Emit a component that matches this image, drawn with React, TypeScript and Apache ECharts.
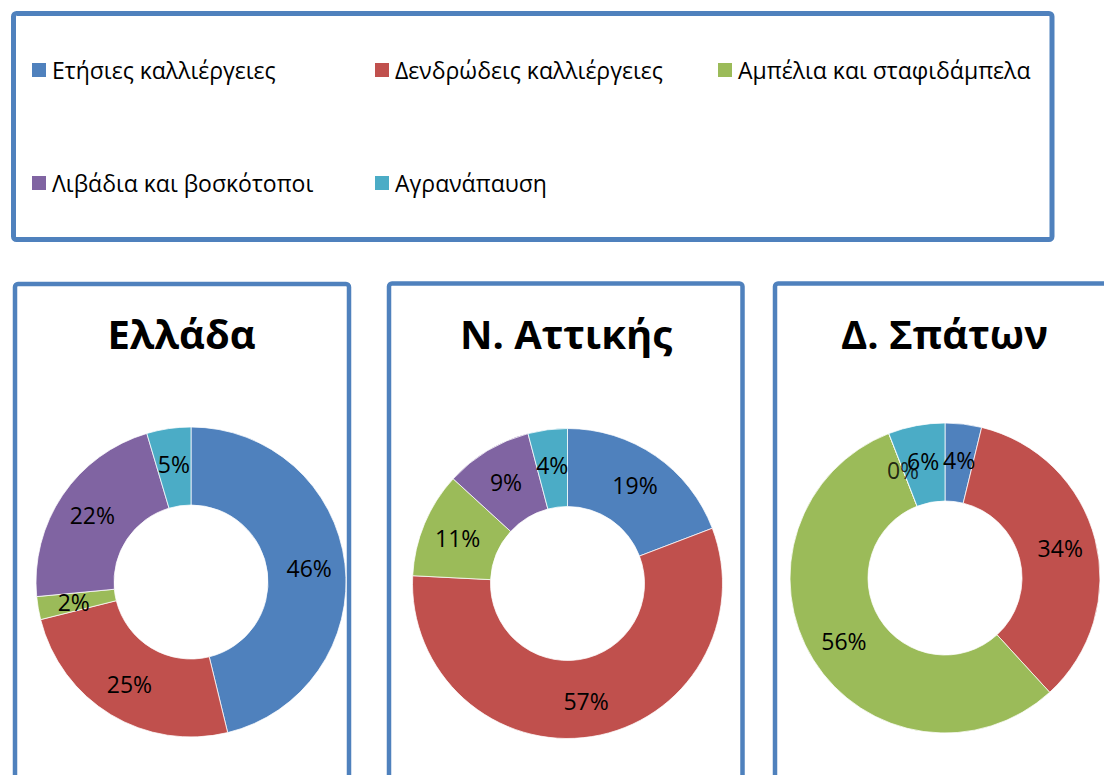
import React, { useEffect, useRef } from "react";
import * as echarts from "echarts";

const categories = [
  "Ετήσιες καλλιέργειες",
  "Δενδρώδεις καλλιέργειες",
  "Αμπέλια και σταφιδάμπελα",
  "Λιβάδια και βοσκότοποι",
  "Αγρανάπαυση",
];
const colors = ["#4F81BD", "#C0504D", "#9BBB59", "#8064A2", "#4BACC6"];
const regions = ["Ελλάδα", "Ν. Αττικής", "Δ. Σπάτων"];
const greeceValues = [46.2, 24.9, 2.4, 21.9, 4.6];
const atticaValues = [19.2, 56.6, 11.0, 9.1, 4.1];
const spataValues = [3.8, 34.4, 55.9, 0, 5.9];

const FONT = '"Open Sans", "Noto Sans", sans-serif';
const BORDER = "#4F81BD";

export default function App() {
  const ref = useRef<HTMLDivElement>(null);
  useEffect(() => {
    if (!ref.current) return;
    const chart = echarts.init(ref.current, undefined, { renderer: "svg" });
    const allValues = [greeceValues, atticaValues, spataValues];
    const centers = [
      [191, 582],
      [567.5, 583.5],
      [945, 578],
    ];
    const R0 = 77;
    const R1 = 155;
    const panels = [
      { x: 15, y: 284, w: 334 },
      { x: 389, y: 283.5, w: 353.5 },
      { x: 775, y: 283.5, w: 400 },
    ];
    const titleX = [181.5, 566, 944.5];
    const legendPos = [
      [30, 70],
      [373, 70],
      [716, 70],
      [30, 183],
      [373, 183],
    ];
    const labelStyle = { fontSize: 23, color: "#000", fontFamily: FONT };

    const legends = categories.map((name, i) => ({
      data: [name],
      left: legendPos[i][0],
      top: legendPos[i][1] - 12,
      orient: "horizontal",
      icon: "rect",
      itemWidth: 16,
      itemHeight: 16,
      itemGap: 0,
      padding: 0,
      selectedMode: false,
      textStyle: { ...labelStyle, lineHeight: 24 },
    }));

    const series: any[] = allValues.map((vals, si) => ({
      type: "pie",
      name: regions[si],
      center: centers[si],
      radius: [R0, R1],
      startAngle: 90,
      clockwise: true,
      avoidLabelOverlap: false,
      minShowLabelAngle: -1,
      emphasis: { disabled: true },
      itemStyle: { borderColor: "#fff", borderWidth: 0.75 },
      label: {
        show: true,
        position: "inside",
        formatter: (p: any) => Math.round(p.value) + "%",
        ...labelStyle,
      },
      labelLine: { show: false },
      data: categories.map((c, i) => ({
        name: c,
        value: vals[i],
        itemStyle: { color: colors[i] },
      })),
    }));

    // zero-value slices: ECharts hides their labels, so place them via a polar scatter
    const polar: any[] = [];
    const angleAxis: any[] = [];
    const radiusAxis: any[] = [];
    allValues.forEach((vals, si) => {
      const total = vals.reduce((a, b) => a + b, 0);
      const zeroPts: any[] = [];
      let cum = 0;
      vals.forEach((v) => {
        if (v === 0) zeroPts.push([(R0 + R1) / 2, cum]);
        cum += v;
      });
      if (!zeroPts.length) return;
      const pi = polar.length;
      polar.push({ center: centers[si], radius: [0, R1] });
      angleAxis.push({
        polarIndex: pi,
        type: "value",
        min: 0,
        max: total,
        startAngle: 90,
        clockwise: true,
        show: false,
        axisLine: { show: false },
        axisTick: { show: false },
        axisLabel: { show: false },
        splitLine: { show: false },
      });
      radiusAxis.push({
        polarIndex: pi,
        type: "value",
        min: 0,
        max: R1,
        show: false,
        axisLine: { show: false },
        axisTick: { show: false },
        axisLabel: { show: false },
        splitLine: { show: false },
      });
      series.unshift({
        type: "scatter",
        coordinateSystem: "polar",
        polarIndex: pi,
        symbolSize: 0,
        silent: true,
        z: 5,
        label: {
          show: true,
          position: "inside",
          formatter: () => "0%",
          ...labelStyle,
        },
        data: zeroPts,
      });
    });

    const graphic: any[] = [
      {
        type: "rect",
        shape: { x: 13.5, y: 13.5, width: 1038.5, height: 226, r: 3 },
        style: { fill: "none", stroke: BORDER, lineWidth: 5 },
        silent: true,
      },
      ...panels.map((p) => ({
        type: "rect",
        shape: { x: p.x, y: p.y, width: p.w, height: 600, r: 3 },
        style: { fill: "none", stroke: BORDER, lineWidth: 4.5 },
        silent: true,
      })),
      ...regions.map((r, i) => ({
        type: "text",
        x: titleX[i],
        y: 333,
        style: {
          text: r,
          font: `bold 40px ${FONT}`,
          fill: "#000",
          textAlign: "center",
          textVerticalAlign: "middle",
        },
        silent: true,
      })),
    ];

    chart.setOption({
      animation: false,
      backgroundColor: "#fff",
      color: colors,
      legend: legends,
      tooltip: { show: false },
      polar,
      angleAxis,
      radiusAxis,
      series,
      graphic,
    });
    return () => chart.dispose();
  }, []);
  return (
    <div
      ref={ref}
      style={{ position: "absolute", left: 0, top: 0, width: 1104, height: 775 }}
    />
  );
}
